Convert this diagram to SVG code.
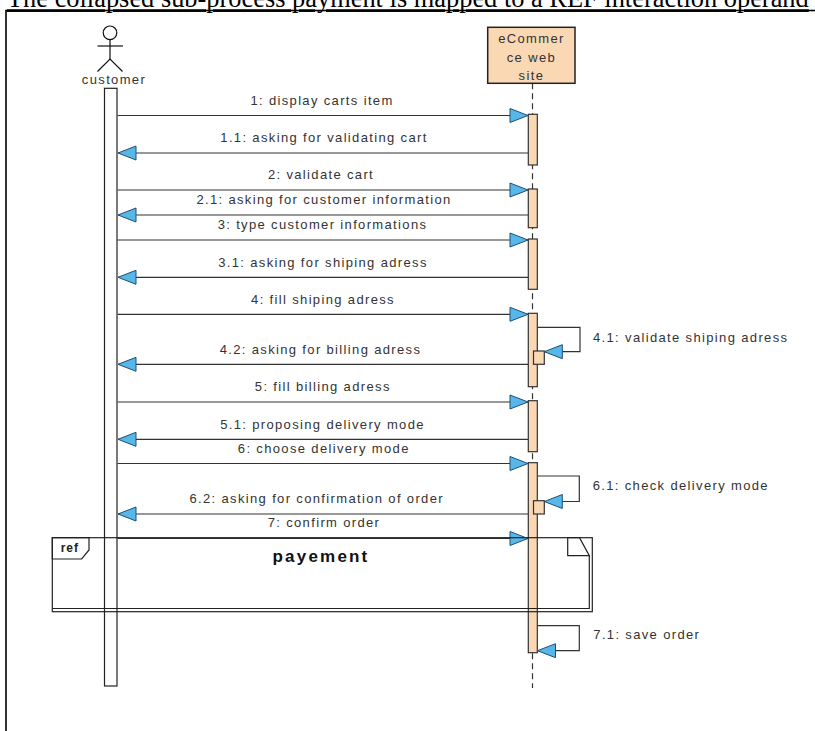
<svg xmlns="http://www.w3.org/2000/svg" width="815" height="731" viewBox="0 0 815 731">
<style>
.lbl{font-family:"Liberation Sans",Arial,sans-serif;font-size:13px;letter-spacing:1.35px;fill:#333;}
.mid{text-anchor:middle;}
.msg{stroke:#333;stroke-width:1.2;fill:none;}
.act{fill:#FBD8B4;stroke:#333;stroke-width:1.2;}
.life{stroke:#333;stroke-width:1.2;stroke-dasharray:6,4;fill:none;}
.frm{stroke:#222;stroke-width:1.2;fill:none;}
</style>
<defs>
<marker id="arr" viewBox="-1 -1 20 16" refX="18" refY="7" markerWidth="20" markerHeight="16" markerUnits="userSpaceOnUse" orient="auto">
<path d="M0,0 L18,7 L0,14 Z" fill="#58B7E9" stroke="#1E4F73" stroke-width="1"/>
</marker>
</defs>
<rect width="815" height="731" fill="#fff"/>
<text x="7" y="7.3" font-family="'Liberation Serif','Times New Roman',serif" font-size="26.4" fill="#000" text-decoration="underline">The collapsed sub-process payment is mapped to a REF interaction operand</text>
<rect x="6" y="10.5" width="900" height="800" fill="none" stroke="#000" stroke-width="1.6"/>

<g id="customer">
<circle cx="110" cy="32.8" r="6.8" fill="#fff" stroke="#111" stroke-width="1.2"/>
<line x1="110" y1="39.6" x2="110" y2="59" stroke="#111" stroke-width="1.2"/>
<line x1="97.5" y1="46" x2="123" y2="46" stroke="#111" stroke-width="1.2"/>
<polyline points="97.5,71.5 110,59 122.5,71.5" fill="none" stroke="#111" stroke-width="1.2"/>
<text class="lbl mid" x="114" y="84">customer</text>
<rect x="104.5" y="88.3" width="12.5" height="597.7" fill="#fff" stroke="#222" stroke-width="1.2"/>
</g>

<g id="ecommerce">
<line class="life" x1="532.5" y1="83.3" x2="532.5" y2="688"/>
<rect x="487.7" y="27.3" width="87.3" height="56" fill="#FBD8B4" stroke="#222" stroke-width="1.5"/>
<text class="lbl mid" x="531.4" y="42.5">eCommer</text>
<text class="lbl mid" x="531.4" y="61.5">ce web</text>
<text class="lbl mid" x="531.4" y="80">site</text>
<rect class="act" x="528.3" y="114.3" width="9" height="50.7"/>
<rect class="act" x="528.3" y="189" width="9" height="38.7"/>
<rect class="act" x="528.3" y="239" width="9" height="50.3"/>
<rect class="act" x="528.3" y="313.3" width="9" height="73.4"/>
<rect class="act" x="533.5" y="351" width="10.8" height="13.3"/>
<rect class="act" x="528.3" y="400.7" width="9" height="51"/>
<rect class="act" x="528.3" y="462.7" width="9" height="190"/>
<rect class="act" x="533.5" y="500.7" width="10.8" height="13.3"/>
</g>

<g id="connectors">
<line class="msg" x1="117.5" y1="115.5" x2="528" y2="115.5" marker-end="url(#arr)"/>
<text class="lbl mid" x="322" y="105">1: display carts item</text>
<line class="msg" x1="528" y1="153" x2="118" y2="153" marker-end="url(#arr)"/>
<text class="lbl mid" x="324" y="142.3">1.1: asking for validating cart</text>
<line class="msg" x1="117.5" y1="190" x2="528" y2="190" marker-end="url(#arr)"/>
<text class="lbl mid" x="321" y="179.3">2: validate cart</text>
<line class="msg" x1="528" y1="215" x2="118" y2="215" marker-end="url(#arr)"/>
<text class="lbl mid" x="324" y="204.3">2.1: asking for customer information</text>
<line class="msg" x1="117.5" y1="240" x2="528" y2="240" marker-end="url(#arr)"/>
<text class="lbl mid" x="322.5" y="229">3: type customer informations</text>
<line class="msg" x1="528" y1="277.3" x2="118" y2="277.3" marker-end="url(#arr)"/>
<text class="lbl mid" x="323" y="266.7">3.1: asking for shiping adress</text>
<line class="msg" x1="117.5" y1="314.3" x2="528" y2="314.3" marker-end="url(#arr)"/>
<text class="lbl mid" x="323" y="304">4: fill shiping adress</text>
<path class="msg" d="M537.3,327.3 H580 V351.7 H544.3" marker-end="url(#arr)"/>
<text class="lbl" x="593" y="341.7">4.1: validate shiping adress</text>
<line class="msg" x1="528" y1="364.3" x2="118" y2="364.3" marker-end="url(#arr)"/>
<text class="lbl mid" x="320.5" y="354">4.2: asking for billing adress</text>
<line class="msg" x1="117.5" y1="402" x2="528" y2="402" marker-end="url(#arr)"/>
<text class="lbl mid" x="322.8" y="391">5: fill billing adress</text>
<line class="msg" x1="528" y1="439.3" x2="118" y2="439.3" marker-end="url(#arr)"/>
<text class="lbl mid" x="322.5" y="428.7">5.1: proposing delivery mode</text>
<line class="msg" x1="117.5" y1="463.5" x2="528" y2="463.5" marker-end="url(#arr)"/>
<text class="lbl mid" x="323.8" y="453.3">6: choose delivery mode</text>
<path class="msg" d="M537.3,476 H579.3 V501.5 H544.3" marker-end="url(#arr)"/>
<text class="lbl" x="592.7" y="490">6.1: check delivery mode</text>
<line class="msg" x1="528" y1="514" x2="118" y2="514" marker-end="url(#arr)"/>
<text class="lbl mid" x="316.7" y="503.3">6.2: asking for confirmation of order</text>
<line class="msg" x1="117.5" y1="538.5" x2="528" y2="538.5" marker-end="url(#arr)"/>
<text class="lbl mid" x="324" y="527.3">7: confirm order</text>
<path class="msg" d="M537.3,625.7 H579.3 V650.7 H537.5" marker-end="url(#arr)"/>
<text class="lbl" x="593.3" y="639.3">7.1: save order</text>
</g>

<g id="ref-payement">
<rect class="frm" x="52.3" y="537.7" width="540" height="74"/>
<polyline class="frm" points="52.3,608.5 589.3,608.5 589.3,555.7"/>
<polygon class="frm" points="567.7,537.7 579.5,537.7 589.3,555.7 567.7,555.7"/>
<polygon class="frm" points="52.3,537.7 89,537.7 89,550 81.7,559 52.3,559"/>
<text x="60.7" y="551.7" font-family="'Liberation Sans',Arial,sans-serif" font-size="12" font-weight="bold" letter-spacing="1" fill="#222">ref</text>
<text x="321" y="561.5" text-anchor="middle" font-family="'Liberation Sans',Arial,sans-serif" font-size="17" font-weight="bold" letter-spacing="2.2" fill="#111">payement</text>
</g>
</svg>
